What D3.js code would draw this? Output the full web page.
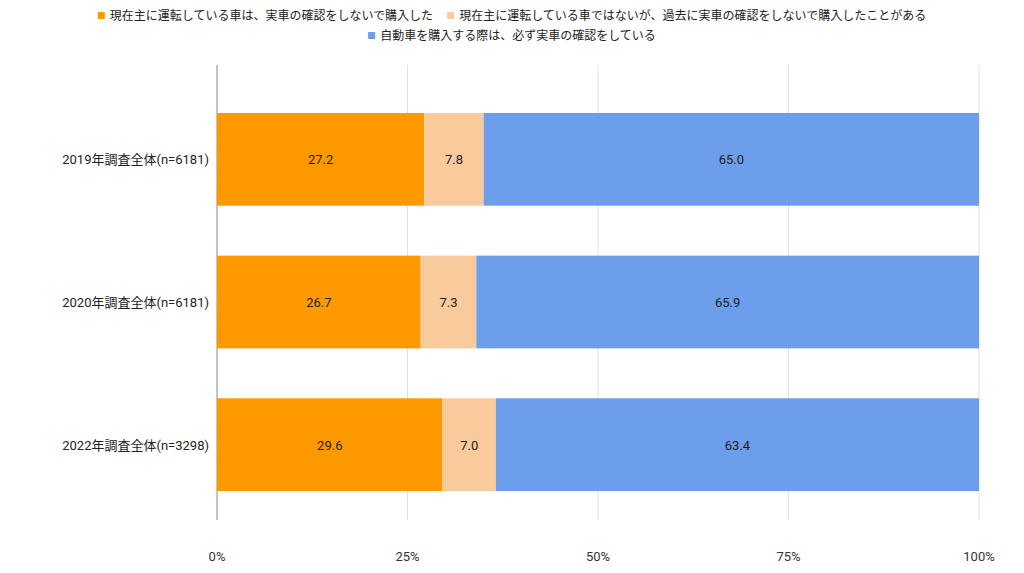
<!DOCTYPE html>
<html><head><meta charset="utf-8">
<script src="https://cdn.jsdelivr.net/npm/d3@7"></script>
<style>body{margin:0;background:#fff;font-family:Roboto,"Noto Sans CJK JP",sans-serif}</style>
</head><body><svg id="c" width="1024" height="573"></svg>
<script>
const categories=["2019年調査全体(n=6181)","2020年調査全体(n=6181)","2022年調査全体(n=3298)"];
const seriesNames=["現在主に運転している車は、実車の確認をしないで購入した","現在主に運転している車ではないが、過去に実車の確認をしないで購入したことがある","自動車を購入する際は、必ず実車の確認をしている"];
const s1=[27.2,26.7,29.6];
const s2=[7.8,7.3,7.0];
const s3=[65.0,65.9,63.4];
const tickLabels=["0%","25%","50%","75%","100%"];
const colors=["#ff9900","#f9cb9c","#6d9eeb"];
const svg=d3.select("#c");
const x=d3.scaleLinear().domain([0,100]).range([217,979]);
const y=d3.scaleBand().domain(categories).range([88,516]).paddingInner(0.35).paddingOuter(0.175);
[25,50,75,100].forEach(v=>svg.append("line").attr("x1",x(v)).attr("x2",x(v)).attr("y1",65).attr("y2",520).attr("stroke","#e0e0e0"));
svg.append("line").attr("x1",x(0)).attr("x2",x(0)).attr("y1",65).attr("y2",520).attr("stroke","#888");
const series=[s1,s2,s3];
categories.forEach((c,i)=>{let acc=0;series.forEach((s,j)=>{const v=s[i];
 const total=s1[i]+s2[i]+s3[i];const w=v/total*100;
 svg.append("rect").attr("x",x(acc)).attr("y",y(c)).attr("width",x(acc+w)-x(acc)).attr("height",y.bandwidth()).attr("fill",colors[j]);
 svg.append("text").attr("x",(x(acc)+x(acc+w))/2).attr("y",y(c)+y.bandwidth()/2+5).attr("text-anchor","middle").attr("font-size",13).attr("fill","#222").text(v.toFixed(1));
 acc+=w;});
 svg.append("text").attr("x",209).attr("y",y(c)+y.bandwidth()/2+5).attr("text-anchor","end").attr("font-size",13).attr("fill","#222").text(c);
});
tickLabels.forEach((t,i)=>svg.append("text").attr("x",x(i*25)).attr("y",561).attr("text-anchor","middle").attr("font-size",13).attr("fill","#333").text(t));
function leg(items,yy){const g=svg.append("g");let xx=0;items.forEach(k=>{const it=g.append("g").attr("transform",`translate(${xx},0)`);
 it.append("rect").attr("x",0).attr("y",yy-8).attr("width",7).attr("height",7).attr("fill",colors[k]);
 const t=it.append("text").attr("x",12).attr("y",yy).attr("font-size",12).attr("fill","#222").text(seriesNames[k]);
 xx+=12+t.node().getComputedTextLength()+14;});
 const w=xx-14;g.attr("transform",`translate(${512-w/2},0)`);}
leg([0,1],20);leg([2],40);
</script></body></html>
